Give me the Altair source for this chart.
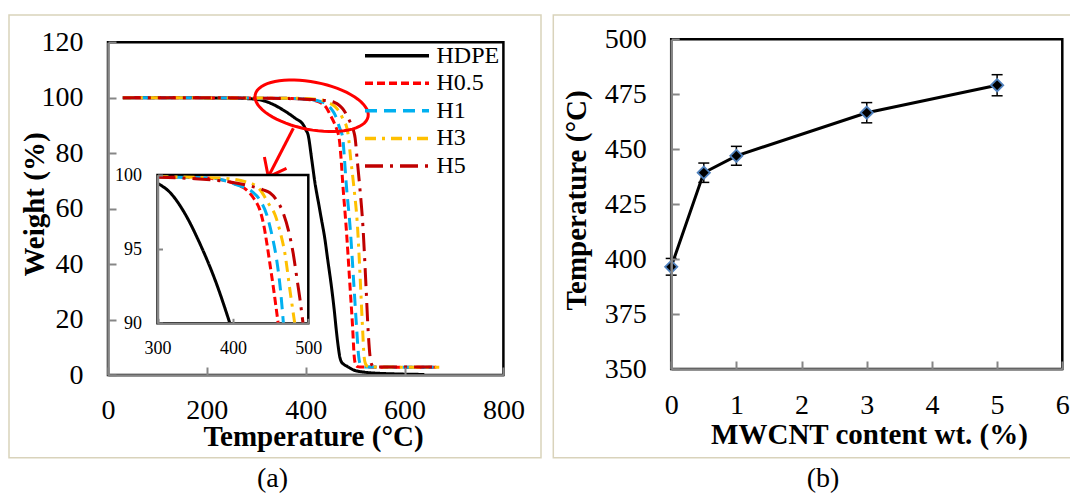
import altair as alt
import numpy as np
import pandas as pd

FONT = "Liberation Serif"
GRAY = "#868686"
TAN = "#d9d3bb"

# ---------------- data: panel (a) TGA curves ----------------
series = ["HDPE", "H0.5", "H1", "H3", "H5"]
series_colors = ["#000000", "#ff0000", "#00b0f0", "#ffc000", "#c00000"]
series_dashes = [[1, 0], [8, 4], [12, 7], [11, 6, 3, 6], [18, 7, 3, 7]]

hdpe_T = [30, 100, 200, 250, 280, 300, 317, 334, 356, 378, 396, 400, 405, 412, 419, 426, 432, 438, 445,
          452, 458, 462, 466, 469, 472, 476, 485, 497, 520, 550, 580, 640]
hdpe_W = [100, 100, 99.95, 99.85, 99.7, 99.44, 98.8, 97.6, 95.4, 92.7, 90.0, 88.5, 86.5, 78.0, 69.0, 62.0,
          56.0, 50.0, 41.0, 32.0, 23.0, 16.0, 10.0, 6.5, 4.8, 4.0, 3.0, 1.8, 1.0, 0.6, 0.4, 0.2]

h05_T = [30, 100, 200, 300, 360, 392, 405, 418, 428, 436, 441, 445, 450, 454, 460, 464, 468, 472, 475,
         482, 490, 495, 498, 501, 505, 510, 670]
h05_W = [100, 100, 99.95, 99.86, 99.8, 99.6, 99.35, 99.0, 98.4, 97.6, 96.6, 95.4, 93.7, 92.3, 90.0, 88.0,
         85.0, 77.0, 69.0, 53.0, 31.0, 17.0, 7.0, 3.8, 3.0, 2.85, 2.8]

h1_T = [30, 100, 200, 300, 370, 407, 425, 436, 445, 452, 458, 463, 467, 471, 475, 478, 482, 490, 498,
        503, 507, 510, 515, 520, 670]
h1_W = [100, 100, 99.95, 99.86, 99.8, 99.3, 98.9, 98.3, 97.3, 95.9, 94.3, 92.3, 90.0, 88.0, 85.5, 79.0,
        69.0, 53.0, 31.0, 17.0, 7.0, 4.0, 3.1, 2.9, 2.8]

h3_T = [30, 100, 200, 300, 380, 420, 436, 447, 456, 463, 469, 476, 480, 482, 486, 491, 497, 505, 511,
        515, 518, 521, 525, 530, 670]
h3_W = [100, 100, 99.95, 99.88, 99.8, 99.5, 99.0, 98.1, 97.3, 96.1, 94.7, 92.1, 90.7, 90.0, 86.6, 78.0,
        68.6, 53.0, 32.0, 17.0, 7.0, 4.0, 3.1, 2.9, 2.8]

h5_T = [30, 100, 200, 300, 350, 400, 420, 440, 449, 458, 467, 474, 480, 485, 489, 493, 497, 500, 504,
        509, 516, 522, 526, 530, 533, 537, 542, 670]
h5_W = [100, 100, 100, 99.85, 99.75, 99.5, 99.3, 99.0, 98.8, 98.3, 97.4, 96.2, 94.7, 93.0, 91.6, 90.0,
        88.0, 85.5, 78.0, 68.6, 53.0, 32.0, 17.0, 7.0, 4.0, 3.1, 2.9, 2.85]

temp_ticks = [0, 200, 400, 600, 800]
weight_ticks = [0, 20, 40, 60, 80, 100, 120]
inset_T_ticks = [300, 400, 500]
inset_W_ticks = [90, 95, 100]

# annotation (ellipse around the onset region and arrow to the inset), in data units
ellipse_T = [412]
ellipse_W = [97.1]
arrow_T = [375, 324.3]
arrow_W = [89.0, 71.5]

# ---------------- data: panel (b) ----------------
mwcnt = [0, 0.5, 1, 3, 5]
t_deg = [396.5, 439.3, 447.0, 466.6, 479.1]
t_err = [3.8, 4.4, 4.3, 4.6, 4.8]
mw_ticks = [0, 1, 2, 3, 4, 5, 6]
td_ticks = [350, 375, 400, 425, 450, 475, 500]

panel_labels = ["(a)", "(b)"]

# ---------------- layout (pixels) ----------------
W_TOT, H_TOT = 1070, 493
A_XR = [108, 503.4]
A_YR = [375, 42.3]
IN_XR = [157.5, 308.3]
IN_YR = [323.3, 175]
B_XR = [671.2, 1062.3]
B_YR = [369, 39.3]

curves = {"HDPE": (hdpe_T, hdpe_W), "H0.5": (h05_T, h05_W), "H1": (h1_T, h1_W),
          "H3": (h3_T, h3_W), "H5": (h5_T, h5_W)}
df_a = pd.concat([pd.DataFrame({"series": s, "T": t, "W": w}) for s, (t, w) in curves.items()],
                 ignore_index=True)


def lab_axis(orient, offset, values, size, pad, title=None, tx=0, ty=0):
    kw = dict(orient=orient, offset=offset, values=values, ticks=False, tickSize=0, grid=False,
              domain=True, domainColor=GRAY, domainWidth=2.5, labelFont=FONT, labelFontSize=size,
              labelColor="black", labelPadding=pad, zindex=1, labelOverlap=False, labelFlush=False)
    if title:
        kw.update(title=title, titleFont=FONT, titleFontSize=29, titleFontWeight="bold",
                  titleColor="black", titleX=tx, titleY=ty, titleAlign="center",
                  titleBaseline="alphabetic")
        if orient in ("left", "right"):
            kw["titleAngle"] = 270
    else:
        kw["title"] = None
    return alt.Axis(**kw)


def tick_axis(orient, offset, values, size):
    return alt.Axis(orient=orient, offset=offset, values=values, labels=False, domain=False,
                    ticks=True, tickSize=size, tickColor=GRAY, tickWidth=2, grid=False,
                    title=None, zindex=1)


color_enc = alt.Color("series:N", scale=alt.Scale(domain=series, range=series_colors), legend=None)
dash_enc = alt.StrokeDash("series:N", scale=alt.Scale(domain=series, range=series_dashes), legend=None)

# ---------------- panel (a) main ----------------
xa = alt.Scale(domain=[temp_ticks[0], temp_ticks[-1]], range=A_XR, nice=False, zero=False)
ya = alt.Scale(domain=[weight_ticks[0], weight_ticks[-1]], range=A_YR, nice=False, zero=False)

frame_a = alt.Chart(pd.DataFrame({"x0": [temp_ticks[0]], "x1": [temp_ticks[-1]],
                                  "y0": [weight_ticks[0]], "y1": [weight_ticks[-1]]})).mark_rect(
    filled=False, color="black", strokeWidth=2.5).encode(
    x=alt.X("x0:Q", scale=xa, axis=tick_axis("top", -A_YR[0], temp_ticks, 8)),
    x2="x1",
    y=alt.Y("y0:Q", scale=ya, axis=tick_axis("right", A_XR[0] - W_TOT, weight_ticks, 8)),
    y2="y1",
)

curves_a = alt.Chart(df_a).mark_line(strokeWidth=3, interpolate="monotone").encode(
    x=alt.X("T:Q", scale=xa, axis=lab_axis("bottom", A_YR[0] - H_TOT, temp_ticks, 28, 21,
                                           "Temperature (°C)", 313, 70)),
    y=alt.Y("W:Q", scale=ya, axis=lab_axis("left", -A_XR[0], weight_ticks, 28, 25,
                                           "Weight (%)", -65, 204)),
    color=color_enc,
    strokeDash=dash_enc,
)

ang = np.linspace(0, 2 * np.pi, 64, endpoint=False)
ELLIPSE = "M " + " L ".join(f"{np.cos(a):.4f} {0.414 * np.sin(a):.4f}" for a in ang) + " Z"
CHEVRON = "M -0.62 -0.79 L 0 0 L 0.62 -0.79"

ellipse = alt.Chart(pd.DataFrame({"T": ellipse_T, "W": ellipse_W})).mark_point(
    shape=ELLIPSE, size=13225, angle=11, filled=False, color="#ff0000", strokeWidth=3, opacity=1
).encode(x=alt.X("T:Q", scale=xa, axis=None), y=alt.Y("W:Q", scale=ya, axis=None))

arrow_line = alt.Chart(pd.DataFrame({"T0": [arrow_T[0]], "W0": [arrow_W[0]],
                                     "T1": [arrow_T[1]], "W1": [arrow_W[1]]})).mark_rule(
    color="#ff0000", strokeWidth=3).encode(
    x=alt.X("T0:Q", scale=xa, axis=None), x2="T1",
    y=alt.Y("W0:Q", scale=ya, axis=None), y2="W1")

arrow_head = alt.Chart(pd.DataFrame({"T": [arrow_T[1]], "W": [arrow_W[1]]})).mark_point(
    shape=CHEVRON, size=1600, angle=27, filled=False, color="#ff0000", strokeWidth=3, opacity=1
).encode(x=alt.X("T:Q", scale=xa, axis=None), y=alt.Y("W:Q", scale=ya, axis=None))

main_group = alt.layer(frame_a, curves_a, ellipse, arrow_line, arrow_head).resolve_axis(
    x="independent", y="independent")

# ---------------- panel (a) inset ----------------
xi = alt.Scale(domain=[inset_T_ticks[0], inset_T_ticks[-1]], range=IN_XR, nice=False, zero=False)
yi = alt.Scale(domain=[inset_W_ticks[0], inset_W_ticks[-1]], range=IN_YR, nice=False, zero=False)

inset_bg = alt.Chart(pd.DataFrame({"x0": [inset_T_ticks[0]], "x1": [inset_T_ticks[-1]],
                                   "y0": [inset_W_ticks[0]], "y1": [inset_W_ticks[-1]]})).mark_rect(
    fill="white", stroke="black", strokeWidth=2.5).encode(
    x=alt.X("x0:Q", scale=xi, axis=tick_axis("top", -IN_YR[0], inset_T_ticks, 5)),
    x2="x1",
    y=alt.Y("y0:Q", scale=yi, axis=tick_axis("right", IN_XR[0] - W_TOT, inset_W_ticks, 5)),
    y2="y1",
)

inset_curves = alt.Chart(df_a).transform_filter(
    f"datum.T >= {inset_T_ticks[0]} && datum.W >= {inset_W_ticks[0]}"
).mark_line(strokeWidth=3, interpolate="monotone").encode(
    x=alt.X("T:Q", scale=xi, axis=lab_axis("bottom", IN_YR[0] - H_TOT, inset_T_ticks, 18, 16)),
    y=alt.Y("W:Q", scale=yi, axis=lab_axis("left", -IN_XR[0], inset_W_ticks, 18, 16)),
    color=color_enc,
    strokeDash=dash_enc,
)

inset_group = alt.layer(inset_bg, inset_curves).resolve_axis(x="independent", y="independent")

# ---------------- legend (panel a) ----------------
leg_df = pd.DataFrame({"series": series})
leg_y = alt.Y("series:N", scale=alt.Scale(type="point", domain=series, range=[55.7, 166], padding=0),
              axis=None)
leg_lines = alt.Chart(leg_df).mark_rule(strokeWidth=3.5).encode(
    y=leg_y, x=alt.value(365), x2=alt.value(429), color=color_enc, strokeDash=dash_enc)
leg_text = alt.Chart(leg_df).mark_text(align="left", baseline="middle", font=FONT, fontSize=24,
                                       color="black").encode(
    y=leg_y, x=alt.value(436.5), text="series:N")
legend_group = alt.layer(leg_lines, leg_text)

# ---------------- panel (b) ----------------
xb = alt.Scale(domain=[mw_ticks[0], mw_ticks[-1]], range=B_XR, nice=False, zero=False)
yb = alt.Scale(domain=[td_ticks[0], td_ticks[-1]], range=B_YR, nice=False, zero=False)

lo = [t - e for t, e in zip(t_deg, t_err)]
hi = [t + e for t, e in zip(t_deg, t_err)]
df_b = pd.DataFrame({"wt": mwcnt, "Td": t_deg, "lo": lo, "hi": hi})
caps_df = pd.DataFrame({"wt": mwcnt + mwcnt, "Td": lo + hi})

frame_b = alt.Chart(pd.DataFrame({"x0": [mw_ticks[0]], "x1": [mw_ticks[-1]],
                                  "y0": [td_ticks[0]], "y1": [td_ticks[-1]]})).mark_rect(
    filled=False, color="black", strokeWidth=2.5).encode(
    x=alt.X("x0:Q", scale=xb, axis=tick_axis("top", -B_YR[0], mw_ticks, 8)),
    x2="x1",
    y=alt.Y("y0:Q", scale=yb, axis=tick_axis("right", B_XR[0] - W_TOT, td_ticks, 8)),
    y2="y1",
)

err_b = alt.Chart(df_b).mark_rule(color="black", strokeWidth=1.5).encode(
    x=alt.X("wt:Q", scale=xb, axis=None),
    y=alt.Y("lo:Q", scale=yb, axis=None), y2="hi")

caps_b = alt.Chart(caps_df).mark_tick(orient="horizontal", size=11, thickness=1.5, color="black",
                                      opacity=1).encode(
    x=alt.X("wt:Q", scale=xb, axis=None),
    y=alt.Y("Td:Q", scale=yb, axis=None))

line_b = alt.Chart(df_b).mark_line(color="black", strokeWidth=3).encode(
    x=alt.X("wt:Q", scale=xb, axis=lab_axis("bottom", B_YR[0] - H_TOT, mw_ticks, 28, 22,
                                            "MWCNT content wt. (%)", 869, 74)),
    y=alt.Y("Td:Q", scale=yb, axis=lab_axis("left", -B_XR[0], td_ticks, 28, 25,
                                            "Temperature (°C)", -86, 200)),
)

pts_b = alt.Chart(df_b).mark_point(shape="diamond", size=150, filled=True, fill="black",
                                   stroke="#4f81bd", strokeWidth=1.8, opacity=1).encode(
    x=alt.X("wt:Q", scale=xb, axis=None),
    y=alt.Y("Td:Q", scale=yb, axis=None))

b_group = alt.layer(frame_b, err_b, caps_b, line_b, pts_b).resolve_axis(
    x="independent", y="independent")

# ---------------- decorations ----------------
one = pd.DataFrame({"k": [0]})
border_a = alt.Chart(one).mark_rect(filled=False, color=TAN, strokeWidth=1.5).encode(
    x=alt.value(9), x2=alt.value(541), y=alt.value(15), y2=alt.value(457.7))
border_b = alt.Chart(one).mark_rect(filled=False, color=TAN, strokeWidth=1.5).encode(
    x=alt.value(553.3), x2=alt.value(1080), y=alt.value(15), y2=alt.value(457.7))
labels_chart = alt.Chart(pd.DataFrame({"label": panel_labels})).mark_text(
    font=FONT, fontSize=28, baseline="alphabetic", align="center", color="black").encode(
    x=alt.X("label:N", scale=alt.Scale(type="point", domain=panel_labels, range=[272.5, 823],
                                       padding=0), axis=None),
    y=alt.value(487), text="label:N")

chart = alt.layer(
    border_a, border_b, labels_chart, main_group, inset_group, legend_group, b_group
).resolve_scale(x="independent", y="independent").properties(
    width=W_TOT, height=H_TOT, padding=0, background="white",
    autosize=alt.AutoSizeParams(type="none"),
).configure_view(strokeWidth=0)

chart.save("out.html", embed_options={"renderer": "svg", "actions": False})
